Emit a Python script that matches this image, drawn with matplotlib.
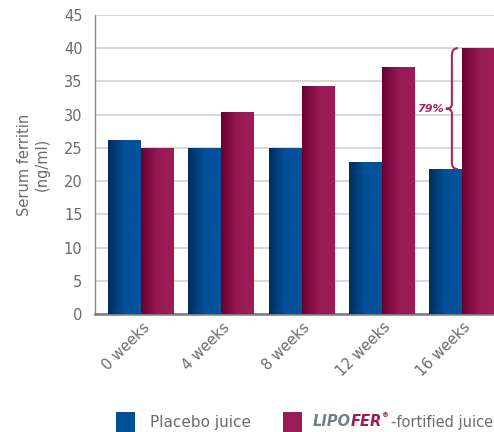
import numpy as np
import matplotlib
matplotlib.use("Agg")
import matplotlib.pyplot as plt
from matplotlib.colors import LinearSegmentedColormap
from matplotlib.patches import Rectangle, PathPatch
from matplotlib.path import Path

categories = ["0 weeks", "4 weeks", "8 weeks", "12 weeks", "16 weeks"]
placebo = [26.2, 25.0, 25.0, 22.9, 21.8]
lipofer = [25.0, 30.4, 34.3, 37.2, 40.0]
yticks = [0, 5, 10, 15, 20, 25, 30, 35, 40, 45]

plt.rcParams['font.family'] = ['DejaVu Sans']
fig = plt.figure(figsize=(4.94, 4.32), dpi=100)
ax = fig.add_axes([95/494, 1-314/432, 1-95/494, (314-15)/432])

gray_txt = "#6b6b6b"
blue_cm = LinearSegmentedColormap.from_list("b", ["#002d5e", "#00529a", "#00529a"])
mag_cm = LinearSegmentedColormap.from_list("m", ["#680034", "#961a53", "#9d1c57"])

x = np.arange(len(categories))
w = 0.41
b1 = ax.bar(x - w/2, placebo, w, facecolor="none", edgecolor="none", zorder=3)
b2 = ax.bar(x + w/2, lipofer, w, facecolor="none", edgecolor="none", zorder=3)
grad = np.linspace(0, 1, 64).reshape(1, -1)
for bars, cm in ((b1, blue_cm), (b2, mag_cm)):
    for r in bars:
        x0, y0 = r.get_x(), r.get_y()
        im = ax.imshow(grad, cmap=cm, aspect="auto", zorder=3,
                       extent=(x0, x0 + r.get_width(), y0, y0 + r.get_height()),
                       interpolation="bicubic")
        im.set_clip_path(r)

ax.set_xlim(-0.575, 4.4)
ax.set_ylim(0, 45)
ax.set_yticks(yticks)
ax.yaxis.grid(True, color="#d6d6d6", linewidth=1.3, zorder=0)
ax.set_axisbelow(True)
ax.tick_params(axis="y", length=0, pad=9, labelsize=10.5, labelcolor=gray_txt)
ax.tick_params(axis="x", length=0, pad=4, labelsize=10.5, labelcolor=gray_txt)
ax.set_xticks(x + 0.01)
ax.set_xticklabels(categories, rotation=45, ha="right", va="top", rotation_mode="anchor")
for s in ("top", "right"):
    ax.spines[s].set_visible(False)
ax.spines["left"].set_color("#8a8a8a")
ax.spines["left"].set_linewidth(1.0)
ax.spines["bottom"].set_color("#7a7a7a")
ax.spines["bottom"].set_linewidth(1.8)
ax.set_ylabel("Serum ferritin\n(ng/ml)", color=gray_txt, fontsize=10.5, labelpad=10)

# brace annotation
top, bot = lipofer[4], placebo[4]
mid = (top + bot) / 2
xr, xs, xt = 3.95, 3.875, 3.80
verts = [(xr, top), (xs, top), (xs, top - 1.0),
         (xs, mid + 0.7), (xs, mid), (xt, mid),
         (xs, mid), (xs, mid - 0.7),
         (xs, bot + 1.0), (xs, bot), (xr, bot)]
codes = [Path.MOVETO, Path.CURVE3, Path.CURVE3,
         Path.LINETO, Path.CURVE3, Path.CURVE3,
         Path.CURVE3, Path.CURVE3,
         Path.LINETO, Path.CURVE3, Path.CURVE3]
ax.add_patch(PathPatch(Path(verts, codes), facecolor="none", edgecolor="#a3275f",
                       linewidth=1.5, zorder=4, clip_on=False))
ax.text(3.775, mid, "79%", ha="right", va="center", color="#a3275f",
        fontsize=8, fontweight="bold", style="italic", zorder=5)

# legend
fig.patches.append(Rectangle((116/494, 0), 19/494, 20/432, transform=fig.transFigure,
                             facecolor="#004f95", edgecolor="none"))
fig.patches.append(Rectangle((283/494, 0), 19/494, 20/432, transform=fig.transFigure,
                             facecolor="#9b1b55", edgecolor="none"))
fig.text(150/494, 1-422/432, "Placebo juice", ha="left", va="center", color=gray_txt, fontsize=11)
t1 = fig.text(313/494, 1-422/432, "LIPO", ha="left", va="center", color="#6e828d",
              fontsize=10.5, fontweight="bold", style="italic")
fig.canvas.draw()
r = fig.canvas.get_renderer()
bb = t1.get_window_extent(r)
t2 = fig.text(bb.x1/494, 1-422/432, "FER", ha="left", va="center", color="#9b1b55",
              fontsize=10.5, fontweight="bold", style="italic")
bb = t2.get_window_extent(r)
t3 = fig.text(bb.x1/494, 1-415/432, "®", ha="left", va="center", color="#9b1b55",
              fontsize=5, fontweight="bold")
bb = t3.get_window_extent(r)
fig.text(493/494, 1-422/432, "-fortified juice", ha="right", va="center", color=gray_txt,
         fontsize=10.5)

fig.savefig("out.png", dpi=100)
